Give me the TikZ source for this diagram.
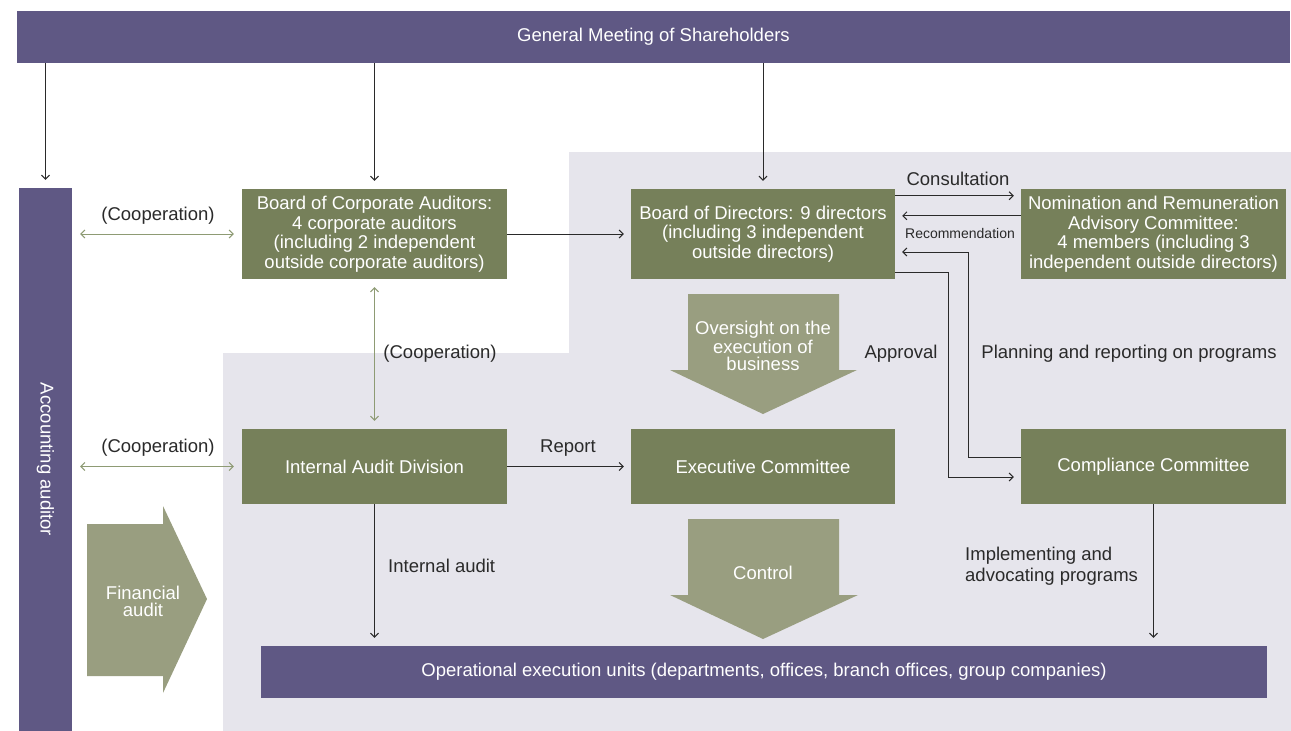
\documentclass[tikz,border=0pt]{standalone}
\usepackage{fontspec}
\setmainfont{Liberation Sans}
\usetikzlibrary{arrows.meta,calc}
\definecolor{purp}{HTML}{5F5884}
\definecolor{olive}{HTML}{76805A}
\definecolor{lolive}{HTML}{999E80}
\definecolor{bgg}{HTML}{E6E5EC}
\definecolor{coopc}{HTML}{8E9B74}
\definecolor{ink}{HTML}{2A2A2A}
\begin{document}
\begin{tikzpicture}[x=1pt,y=-1pt,
 gbox/.style={fill=olive,text=white,align=center,inner sep=0pt,font=\fontsize{18.5}{19.5}\selectfont},
 pbox/.style={fill=purp,text=white,align=center,inner sep=0pt,font=\fontsize{18.5}{19.5}\selectfont},
 conn/.style={draw=ink,line width=1pt,-{Straight Barb[length=4pt,width=8pt]}},
 coop/.style={draw=coopc,line width=1pt,{Straight Barb[length=4pt,width=8pt]}-{Straight Barb[length=4pt,width=8pt]}},
 lbl/.style={text=ink,inner sep=0pt,font=\fontsize{18.5}{21}\selectfont},
 bigtxt/.style={text=white,align=center,inner sep=0pt,font=\fontsize{18.5}{17}\selectfont},
 bigarrow/.style={fill=lolive}]
\useasboundingbox (0,0) rectangle (1291,731);
\fill[white] (0,0) rectangle (1291,731);
\fill[bgg] (569,152) -- (1291,152) -- (1291,731) -- (223,731) -- (223,353) -- (569,353) -- cycle;

% big arrows
\fill[bigarrow] (688,294) -- (839,294) -- (839,370) -- (857,370) -- (763,414) -- (670,370) -- (688,370) -- cycle;
\fill[bigarrow] (688,519) -- (839,519) -- (839,595) -- (858,595) -- (763,639) -- (670,595) -- (688,595) -- cycle;
\fill[bigarrow] (87,524) -- (163,524) -- (163,506) -- (207,599) -- (163,693) -- (163,676) -- (87,676) -- cycle;
\node[bigtxt] (ovt) at (763,346) {Oversight on the\\execution of\\business};
\node[bigtxt] (ctl) at (763,573) {Control};
\node[bigtxt] (fin) at (143,601) {Financial\\audit};

% boxes
\node[pbox,minimum width=1273pt,minimum height=52pt] (gm) at (653.5,37) {General Meeting of Shareholders};
\node[pbox,rotate=-90,minimum width=543pt,minimum height=53pt] (aa) at (45.5,459.5) {Accounting auditor};
\node[gbox,minimum width=265pt,minimum height=90pt] (bca) at (374.5,234) {Board of Corporate Auditors:\\4 corporate auditors\\(including 2 independent\\outside corporate auditors)};
\node[gbox,minimum width=264pt,minimum height=90pt] (bod) at (763,234) {Board of Directors: 9 directors\\(including 3 independent\\outside directors)};
\node[gbox,minimum width=265pt,minimum height=90pt] (nrc) at (1153.5,234) {Nomination and Remuneration\\Advisory Committee:\\4 members (including 3\\independent outside directors)};
\node[gbox,minimum width=265pt,minimum height=75pt] (iad) at (374.5,466.5) {Internal Audit Division};
\node[gbox,minimum width=264pt,minimum height=75pt] (ec) at (763,466.5) {Executive Committee};
\node[gbox,minimum width=265pt,minimum height=75pt] (cc) at (1153.5,466.5) {Compliance Committee};
\node[pbox,minimum width=1006pt,minimum height=52pt] (ops) at (764,672) {Operational execution units (departments, offices, branch offices, group companies)};

% connectors
\draw[conn] (gm.south -| aa.center) -- ([yshift=8pt]aa.west);
\draw[conn] (gm.south -| bca.north) -- ([yshift=8pt]bca.north);
\draw[conn] (gm.south -| bod.north) -- ([yshift=8pt]bod.north);
\draw[coop] ([xshift=8pt]aa.north |- bca.west) -- ([xshift=-8pt]bca.west);
\draw[coop] ([xshift=8pt]aa.north |- iad.west) -- ([xshift=-8pt]iad.west);
\draw[coop] ([yshift=-8pt]bca.south) -- ([yshift=8pt]iad.north);
\draw[conn] (bca.east) -- ([xshift=-7pt]bod.west);
\draw[conn] (iad.east) -- ([xshift=-7pt]ec.west);
\draw[conn] (iad.south) -- ($(iad.south |- ops.north)+(0,8pt)$);
\draw[conn] (cc.south) -- ($(cc.south |- ops.north)+(0,8pt)$);
\draw[conn] ([yshift=-7pt]bod.north east) -- ([xshift=-7pt,yshift=-7pt]nrc.north west);
\draw[conn] ([yshift=-27pt]nrc.north west) -- ([xshift=7pt,yshift=-27pt]bod.north east);
\coordinate (apx) at (948,400);
\coordinate (plx) at (968,400);
\coordinate (ae) at ([xshift=-7pt,yshift=-10.5pt]cc.west);
\coordinate (ps) at ([yshift=9.5pt]cc.west);
\coordinate (pe) at ([xshift=7pt,yshift=-18pt]bod.east);
\draw[conn] ([yshift=7pt]bod.south east) -- ([yshift=7pt]bod.south east -| apx) -- (apx |- ae) -- (ae);
\draw[conn] (ps) -- (ps -| plx) -- (plx |- pe) -- (pe);

% labels
\node[lbl] (l1) at (158,216) {(Cooperation)};
\node[lbl] (l2) at (158,448) {(Cooperation)};
\node[lbl] (l3) at (440,354) {(Cooperation)};
\node[lbl] (l4) at (568,448) {Report};
\node[lbl,anchor=west] (l5) at (388,566) {Internal audit};
\node[lbl] (l6) at (958,179) {Consultation};
\node[lbl,font=\fontsize{14}{16}\selectfont] (l7) at (960,233) {Recommendation};
\node[lbl] (l8) at (901,354) {Approval};
\node[lbl] (l9) at (1129,354) {Planning and reporting on programs};
\node[lbl,anchor=west,align=left] (l10) at (965,566) {Implementing and\\advocating programs};
\end{tikzpicture}
\end{document}
